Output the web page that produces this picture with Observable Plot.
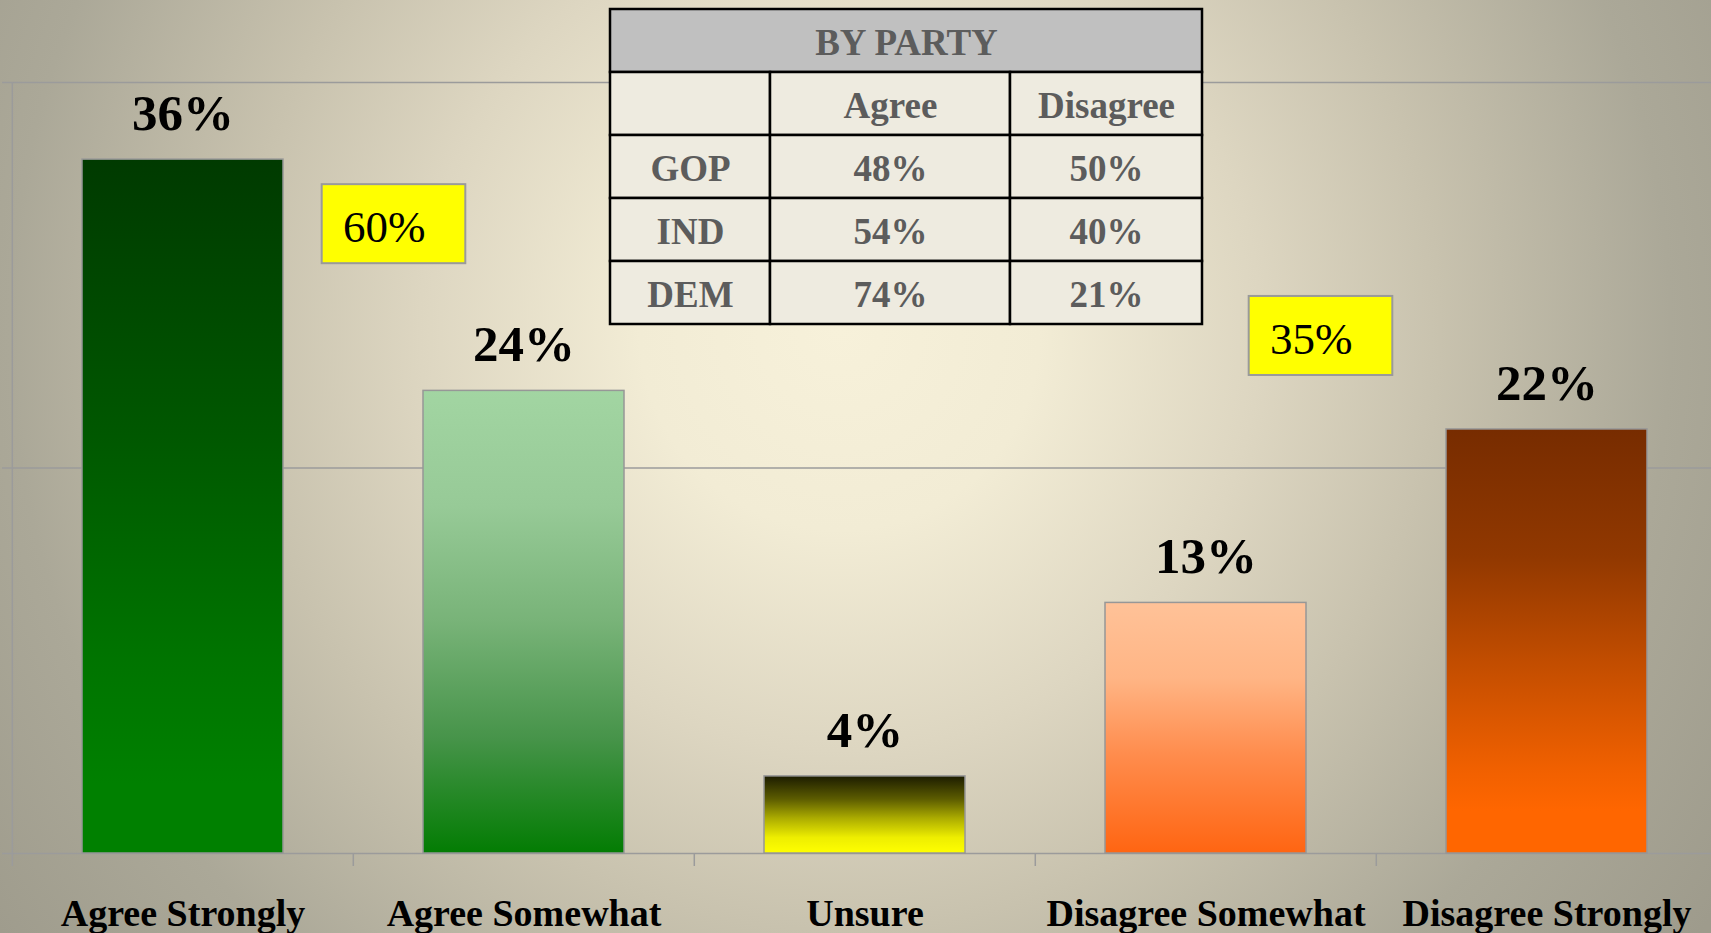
<!DOCTYPE html>
<html>
<head>
<meta charset="utf-8">
<script src="https://cdn.jsdelivr.net/npm/d3@7"></script>
<script src="https://cdn.jsdelivr.net/npm/@observablehq/plot@0.6"></script>
<style>
  html, body { margin: 0; padding: 0; }
  body { width: 1711px; height: 933px; overflow: hidden; }
  #chart {
    position: relative; width: 1711px; height: 933px;
    background: radial-gradient(circle at 840px 330px, #f7f1da 0px, #f2ecd5 200px, #ddd6c1 420px, #c8c2ae 600px, #aba898 830px, #9e9b8c 1050px);
  }
  #chart > svg { position: absolute; left: 0; top: 0; }
  #party { position: absolute; left: 608px; top: 4.5px; }
</style>
</head>
<body>
<div id="chart"><div id="party"></div></div>
<script>
// Survey response shares (%)
const categories = ["Agree Strongly", "Agree Somewhat", "Unsure", "Disagree Somewhat", "Disagree Strongly"];
const shares = [36, 24, 4, 13, 22];

// Breakdown by party (%)
const tableTitle = "BY PARTY";
const partyColumns = ["Agree", "Disagree"];
const parties = ["GOP", "IND", "DEM"];
const partyAgree = [48, 54, 74];
const partyDisagree = [50, 40, 21];

// Vertical fill ramps for each bar, top to bottom
const barGradients = [
  [["0%", "#003a00"], ["40%", "#005800"], ["72%", "#007400"], ["90%", "#008000"], ["100%", "#008000"]],
  [["0%", "#a2d5a2"], ["25%", "#97ca97"], ["50%", "#78b378"], ["75%", "#47944a"], ["100%", "#037c03"]],
  [["0%", "#1c1c00"], ["30%", "#5c5c00"], ["55%", "#acac00"], ["80%", "#eeee00"], ["100%", "#ffff00"]],
  [["0%", "#ffc298"], ["30%", "#ffb585"], ["60%", "#ff8d4e"], ["100%", "#ff6512"]],
  [["0%", "#772c00"], ["30%", "#913800"], ["55%", "#c24d00"], ["80%", "#f06000"], ["90%", "#ff6600"], ["100%", "#ff6600"]]
];

const FONT = "'Liberation Serif', 'Times New Roman', serif";
const GRID = "#9b9b9b";

const bars = categories.map((category, i) => ({category, share: shares[i], fill: `url(#bar-fill-${i})`}));

// Combined agree / disagree totals shown in the yellow call-outs
const totals = [
  {anchor: categories[0], value: shares[0] + shares[1], dx: 211, top: 34.7},
  {anchor: categories[3], value: shares[3] + shares[4], dx: 115, top: 28.9}
];
const boxHeight = 4.1;   // in share units
const boxInset = 28.7;   // px trimmed from each side of the band

const xRange = [11.5, 1718.6];
const step = (xRange[1] - xRange[0]) / categories.length;

const boxMarks = totals.flatMap(t => [
  Plot.barY([t], {
    x: "anchor", y1: d => d.top - boxHeight, y2: "top",
    insetLeft: boxInset, insetRight: boxInset, dx: t.dx,
    fill: "#ffff00", stroke: "#9a9a9a", strokeWidth: 2
  }),
  Plot.text([t], {
    x: "anchor", y: d => d.top - boxHeight / 2, text: d => `${d.value}%`,
    textAnchor: "start", dx: t.dx - 51, dy: 3.6,
    fontSize: 45, fill: "black"
  })
]);

const chart = Plot.plot({
  width: 1711,
  height: 933,
  marginTop: 82,
  marginRight: 0,
  marginBottom: 80,
  marginLeft: 11.5,
  style: {background: "transparent", fontFamily: FONT, overflow: "visible"},
  x: {domain: categories, range: xRange, paddingInner: 0.41, paddingOuter: 0.205, axis: null},
  y: {domain: [0, 40], axis: null},
  color: {type: "identity"},
  marks: [
    Plot.ruleY([0, 20, 40], {stroke: GRID, strokeWidth: 1.5, insetLeft: -9.5}),
    Plot.ruleX(categories, {
      x: d => d, dx: -step / 2,
      y1: d => d === categories[0] ? 40 : 0, y2: 0, insetBottom: -13,
      stroke: GRID, strokeWidth: 1.5
    }),
    Plot.barY(bars, {x: "category", y: "share", fill: "fill", stroke: "#979797", strokeWidth: 1.5}),
    Plot.text(bars, {
      x: "category", y: "share", text: d => `${d.share}%`,
      dy: -46, fontSize: 51, fontWeight: "bold", fill: "black"
    }),
    Plot.text(categories, {
      x: d => d, frameAnchor: "bottom", dy: 72,
      fontSize: 38, fontWeight: "bold", fill: "black"
    }),
    ...boxMarks
  ]
});

// gradient definitions referenced by the bar fills
const defs = d3.select(chart).insert("defs", ":first-child");
barGradients.forEach((stops, i) => {
  const g = defs.append("linearGradient")
    .attr("id", `bar-fill-${i}`)
    .attr("x1", 0).attr("y1", 0).attr("x2", 0).attr("y2", 1);
  stops.forEach(([offset, color]) => g.append("stop").attr("offset", offset).attr("stop-color", color));
});

document.getElementById("chart").prepend(chart);

// Party breakdown table
const colWidths = [160, 240, 192];
const colEdges = [0, ...d3.cumsum(colWidths)];
const tableWidth = colEdges[colEdges.length - 1];
const rows = ["title", "header", ...parties];

const cells = [
  {row: "title", x1: 0, x2: tableWidth, text: tableTitle, fill: "#c0c0c0"},
  ...["", ...partyColumns].map((text, c) => ({row: "header", x1: colEdges[c], x2: colEdges[c + 1], text, fill: "#eeebe0"})),
  ...parties.flatMap((p, i) => [p, `${partyAgree[i]}%`, `${partyDisagree[i]}%`].map((text, c) => ({
    row: p, x1: colEdges[c], x2: colEdges[c + 1], text, fill: "#eeebe0"
  })))
];

const table = Plot.plot({
  width: tableWidth + 4,
  height: 322,
  margin: 2,
  style: {background: "transparent", fontFamily: FONT, overflow: "visible"},
  x: {domain: [0, tableWidth], axis: null},
  y: {domain: rows, padding: 0, axis: null},
  color: {type: "identity"},
  marks: [
    Plot.barX(cells, {x1: "x1", x2: "x2", y: "row", fill: "fill", stroke: "black", strokeWidth: 2.5}),
    Plot.text(cells, {
      x: d => (d.x1 + d.x2) / 2, y: "row", text: "text", dy: 2.5,
      fontSize: 37, fontWeight: "bold", fill: "#5c5c5c"
    })
  ]
});
document.getElementById("party").append(table);
</script>
</body>
</html>
